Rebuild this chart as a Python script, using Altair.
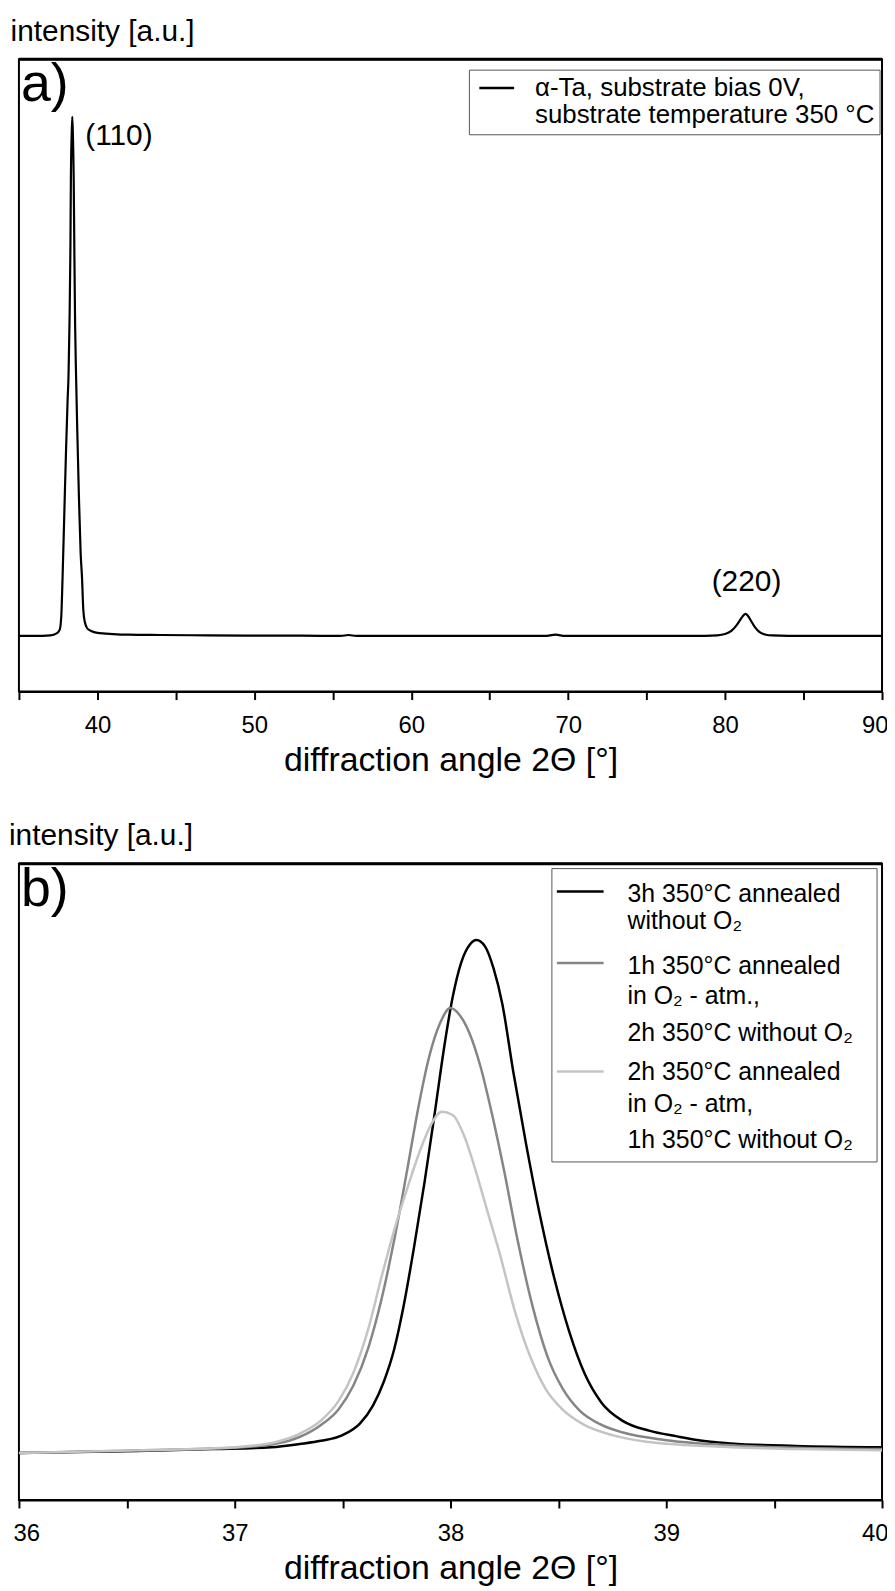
import altair as alt
import pandas as pd

FONT = "Liberation Sans, Arial, sans-serif"

# ---------------- panel a data ----------------
a_angle = [35.0, 36.0, 37.0, 37.4, 37.6, 37.7, 37.78, 37.9, 38.0, 38.1, 38.16, 38.22, 38.28, 38.31,
           38.36, 38.4, 38.44, 38.49, 38.53, 38.58, 38.64, 38.72, 38.82, 38.93, 39.02, 39.1, 39.2,
           39.35, 39.6, 40.0, 41.0, 42.0, 44.0, 47.0, 50.0, 53.0, 55.5, 56.0, 56.5, 59.0, 62.0, 65.0,
           68.5, 69.2, 69.8, 72.0, 75.0, 78.0, 79.5, 80.0, 80.4, 80.7, 80.95, 81.15, 81.3, 81.45,
           81.65, 81.9, 82.2, 82.6, 83.0, 85.0, 87.5, 90.0]
a_intensity = [8.8, 8.8, 8.9, 9.2, 9.8, 12.0, 18.0, 29.0, 38.0, 46.0, 50.0, 58.0, 70.0, 81.0,
               88.0, 90.9, 88.0, 81.0, 70.0, 58.0, 50.0, 41.0, 31.0, 22.0, 18.0, 13.0, 11.0,
               10.0, 9.6, 9.3, 9.1, 9.0, 8.95, 8.9, 8.85, 8.85, 8.8, 8.95, 8.8, 8.8, 8.8, 8.8,
               8.8, 9.0, 8.8, 8.8, 8.8, 8.8, 8.9, 9.1, 9.6, 10.4, 11.3, 12.0, 12.3, 12.0,
               11.2, 10.2, 9.4, 9.0, 8.9, 8.8, 8.8, 8.8]
a_legend = ["\u03b1-Ta, substrate bias 0V,", "substrate temperature 350 \u00b0C"]
a_peak_labels = ["(110)", "(220)"]
a_peak_angle = [38.4, 81.3]
a_peak_intensity = [90.9, 12.3]
a_ticks = [35, 40, 45, 50, 55, 60, 65, 70, 75, 80, 85, 90]

# ---------------- panel b data ----------------
b_3h_angle = [36.0, 36.55, 36.9, 37.17, 37.3, 37.4, 37.5, 37.58, 37.64, 37.69, 37.74, 37.78, 37.83,
              37.88, 37.93, 37.97, 38.01, 38.05, 38.09, 38.12, 38.16, 38.20, 38.24, 38.29, 38.35,
              38.41, 38.48, 38.55, 38.62, 38.70, 38.80, 38.92, 39.05, 39.15, 39.30, 39.6, 40.0]
b_3h_int = [7.4, 7.7, 8.0, 8.3, 8.8, 9.3, 10.2, 12.0, 14.8, 18.5, 23.8, 30.0, 39.5,
            50.0, 61.5, 71.0, 79.0, 84.5, 87.3, 88.0, 87.0, 83.5, 78.0, 67.5, 56.0,
            45.5, 35.0, 26.5, 20.0, 15.3, 12.4, 10.9, 10.0, 9.4, 8.9, 8.5, 8.3]
b_1h_angle = [36.0, 36.55, 37.0, 37.2, 37.3, 37.4, 37.48, 37.55, 37.62, 37.68, 37.74, 37.80, 37.85,
              37.90, 37.95, 38.00, 38.04, 38.09, 38.14, 38.19, 38.25, 38.31, 38.38, 38.45, 38.52,
              38.60, 38.70, 38.80, 39.0, 39.3, 39.6, 40.0]
b_1h_int = [7.4, 7.8, 8.2, 8.9, 9.9, 11.8, 14.2, 18.0, 24.0, 31.5, 41.0, 52.0, 61.5,
            69.5, 74.8, 77.3, 76.3, 73.2, 68.0, 61.0, 51.5, 41.0, 30.5, 22.5, 17.5,
            14.0, 11.8, 10.6, 9.4, 8.6, 8.2, 8.0]
b_2h_angle = [36.0, 36.55, 37.0, 37.2, 37.3, 37.4, 37.48, 37.55, 37.62, 37.68, 37.74, 37.80, 37.86,
              37.91, 37.96, 38.01, 38.06, 38.11, 38.17, 38.23, 38.30, 38.37, 38.44, 38.52, 38.62,
              38.75, 38.9, 39.3, 39.6, 40.0]
b_2h_int = [7.4, 7.8, 8.3, 9.2, 10.4, 12.5, 15.5, 20.0, 27.0, 35.0, 42.5, 49.0, 55.0,
            59.0, 61.0, 60.5, 57.5, 52.5, 45.5, 38.5, 29.5, 22.5, 17.5, 14.2, 11.8,
            10.2, 9.2, 8.3, 8.0, 7.8]
b_legend = [
    ["3h 350\u00b0C annealed", " without O\u2082"],
    ["1h 350\u00b0C annealed", " in O\u2082 - atm.,", " 2h 350\u00b0C without O\u2082"],
    ["2h 350\u00b0C annealed", "in O\u2082 - atm,", " 1h 350\u00b0C without O\u2082"],
]
b_colors = ["#000000", "#858585", "#c4c4c4"]
b_ticks = [36, 36.5, 37, 37.5, 38, 38.5, 39, 39.5, 40]

# ---------------- layout constants ----------------
W = 868
HA = 636
HB = 640
one = pd.DataFrame({"k": [0]})


def legend_box(x0, x1, y0, y1):
    return alt.Chart(one).mark_rect(fill="white", stroke="#555555", strokeWidth=1).encode(
        x=alt.value(x0), x2=alt.value(x1), y=alt.value(y0), y2=alt.value(y1))


def legend_line(x0, x1, y, color):
    return alt.Chart(one).mark_rule(color=color, strokeWidth=2.5).encode(
        x=alt.value(x0), x2=alt.value(x1), y=alt.value(y))


def top_edge():
    return alt.Chart(one).mark_rule(color="black", strokeWidth=3).encode(
        x=alt.value(0), x2=alt.value(W), y=alt.value(0))


def text_layer(rows, size):
    df = pd.DataFrame(rows, columns=["t", "px", "py"])
    return alt.Chart(df).mark_text(align="left", baseline="middle", font=FONT,
                                   fontSize=size, color="black").encode(
        x=alt.X("px:Q", scale=None), y=alt.Y("py:Q", scale=None), text="t:N")


def panel_title():
    return alt.TitleParams("intensity [a.u.]", anchor="start", dx=-4, offset=11)


# ---------------- panel a ----------------
dfa = pd.DataFrame({"angle": a_angle, "intensity": a_intensity})
xa = alt.X("angle:Q", scale=alt.Scale(domain=[35, 90], nice=False, zero=False),
           axis=alt.Axis(values=a_ticks, labelExpr="datum.value % 10 == 0 ? datum.label : ''",
                         title="diffraction angle 2\u0398 [\u00b0]"))
ya = alt.Y("intensity:Q", scale=alt.Scale(domain=[0, 100]), axis=None)

line_a = alt.Chart(dfa).mark_line(color="black", strokeWidth=2.2, interpolate="monotone").encode(x=xa, y=ya)

dpk = pd.DataFrame({"lab": a_peak_labels, "angle": a_peak_angle, "intensity": a_peak_intensity})
pk110 = alt.Chart(dpk.iloc[[0]]).mark_text(align="left", baseline="middle", dx=13, dy=19,
                                           font=FONT, fontSize=30, color="black").encode(
    x=alt.X("angle:Q"), y=alt.Y("intensity:Q"), text="lab:N")
pk220 = alt.Chart(dpk.iloc[[1]]).mark_text(align="center", baseline="middle", dx=1, dy=-32,
                                           font=FONT, fontSize=30, color="black").encode(
    x=alt.X("angle:Q"), y=alt.Y("intensity:Q"), text="lab:N")

tag_a = text_layer([["a)", 2, 26]], 54)
leg_a = [
    legend_box(453, 866, 11, 76),
    legend_line(463, 498, 29, "black"),
    text_layer([[a_legend[0], 519, 29.5], [a_legend[1], 519, 56]], 26),
]

panel_a = alt.layer(line_a, pk110, pk220, tag_a, *leg_a, top_edge()).properties(
    width=W, height=HA, title=panel_title())

# ---------------- panel b ----------------
xb_scale = alt.Scale(domain=[36, 40], nice=False, zero=False)
xb_axis = alt.Axis(values=b_ticks,
                   labelExpr="datum.value % 1 == 0 ? format(datum.value, 'd') : ''",
                   title="diffraction angle 2\u0398 [\u00b0]")
yb = alt.Y("intensity:Q", scale=alt.Scale(domain=[0, 100]), axis=None)

b_lines = []
for ang, inten, col in [(b_3h_angle, b_3h_int, b_colors[0]),
                        (b_1h_angle, b_1h_int, b_colors[1]),
                        (b_2h_angle, b_2h_int, b_colors[2])]:
    d = pd.DataFrame({"angle": ang, "intensity": inten})
    b_lines.append(alt.Chart(d).mark_line(color=col, strokeWidth=2.5, interpolate="monotone").encode(
        x=alt.X("angle:Q", scale=xb_scale, axis=xb_axis), y=yb))

tag_b = text_layer([["b)", 2, 27]], 54)
entry_y = [[31, 58], [103, 133, 170], [210, 242, 278]]
line_y = [28, 100, 209]
rows = []
for lines, ys in zip(b_legend, entry_y):
    for t, yy in zip(lines, ys):
        rows.append([t, 612, yy])
leg_b = [legend_box(536, 863, 5, 300)]
for yy, col in zip(line_y, b_colors):
    leg_b.append(legend_line(541, 588, yy, col))
leg_b.append(text_layer(rows, 25))

panel_b = alt.layer(*b_lines, tag_b, *leg_b, top_edge()).properties(
    width=W, height=HB, title=panel_title())

chart = alt.vconcat(panel_a, panel_b, spacing=42).properties(
    padding={"left": 0, "top": 3, "right": -2, "bottom": 0}
).configure_view(stroke="black", strokeWidth=2).configure_title(
    font=FONT, fontSize=30, fontWeight="normal", color="black"
).configure_axis(
    labelFont=FONT, labelFontSize=24, labelColor="black",
    titleFont=FONT, titleFontSize=34, titleFontWeight="normal", titleColor="black",
    domainColor="black", domainWidth=2, tickColor="black", tickWidth=2, tickSize=8,
    labelPadding=14, titlePadding=6, grid=False, labelFlush=True, labelFlushOffset=6
)

chart.save("out.html", embed_options={"renderer": "svg", "actions": False})
